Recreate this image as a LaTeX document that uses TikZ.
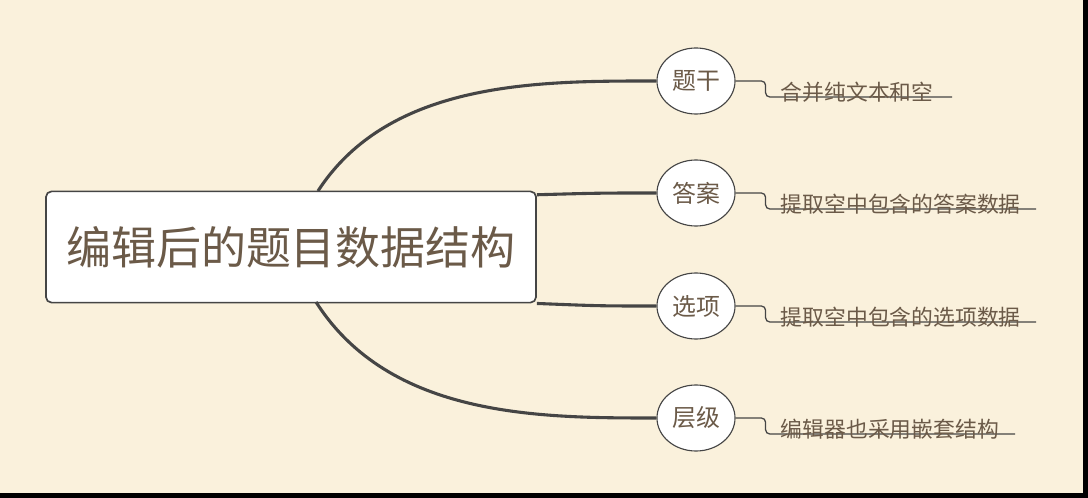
\documentclass[tikz,border=0pt]{standalone}
\usepackage{fontspec}
\newfontfamily\cjk{Noto Sans CJK SC}
\usetikzlibrary{positioning,shapes.geometric}
\definecolor{bgcream}{HTML}{FAF1DC}
\definecolor{txtbrown}{HTML}{6B5A48}
\definecolor{linegray}{HTML}{454545}

\begin{document}
\begin{tikzpicture}[x=0.025cm, y=-0.025cm,
    topic/.style={draw=linegray, line width=1.2pt, rounded corners=4pt, fill=white, text=txtbrown, minimum width=12.25cm, minimum height=2.78cm, font=\cjk\fontsize{32}{36}\selectfont},
    branch/.style={ellipse, draw=linegray, line width=0.8pt, fill=white, text=txtbrown, minimum width=1.95cm, minimum height=1.65cm, inner sep=0pt, font=\cjk\fontsize{17}{20}\selectfont},
    leaf/.style={anchor=south west, text=txtbrown, inner sep=2pt, font=\cjk\fontsize{15.5}{18}\selectfont},
    link/.style={draw=linegray, line width=2.2pt},
    sublink/.style={draw=linegray, line width=0.9pt, rounded corners=3pt},
    ]

\fill[black] (0,0) rectangle (1088,498);
\fill[bgcream] (0,0) rectangle (1083,493);

\node[topic] (root) at (291,247) {编辑后的题目数据结构};

\node[branch] (stem) at (696,81) {题干};
\node[branch] (answer) at (696,193) {答案};
\node[branch] (option) at (696,306) {选项};
\node[branch] (level) at (696,418) {层级};

\draw[link] (318,191) .. controls (390,80) and (540,81) .. (stem.west);
\draw[link] ([yshift=-3]root.north east) .. controls (600,193) .. (answer.west);
\draw[link] (root.south east) .. controls (600,306) .. (option.west);
\draw[link] (316,302) .. controls (390,418) and (540,418) .. (level.west);

\coordinate (stemend) at (952,97);
\coordinate (answerend) at (1036,209);
\coordinate (optionend) at (1036,322);
\coordinate (levelend) at (1015,434);

\foreach \b/\e/\t in {stem/stemend/合并纯文本和空, answer/answerend/提取空中包含的答案数据, option/optionend/提取空中包含的选项数据, level/levelend/编辑器也采用嵌套结构}{
    \draw[sublink] (\b.east) -- ++(30,0) |- (\e);
    \node[leaf] at ([xshift=30,yshift=-6]\b.east |- \e) {\t};
}

\end{tikzpicture}
\end{document}
